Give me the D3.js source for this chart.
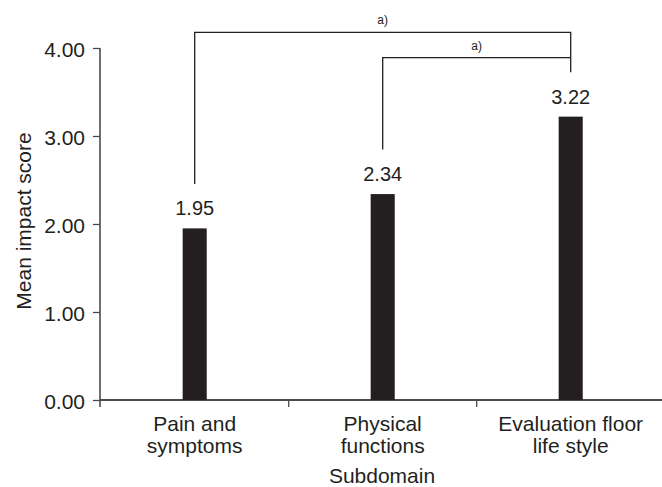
<!DOCTYPE html>
<html>
<head>
<meta charset="utf-8">
<script src="https://cdn.jsdelivr.net/npm/d3@7"></script>
<style>
  html, body { margin: 0; padding: 0; background: #fff; }
  svg { display: block; font-family: "Liberation Sans", Arial, sans-serif; }
</style>
</head>
<body>
<div id="chart"></div>
<script>
// chart data
const categories = ["Pain and symptoms", "Physical functions", "Evaluation floor life style"];
const labelLines = [["Pain and", "symptoms"], ["Physical", "functions"], ["Evaluation floor", "life style"]];
const values = [1.95, 2.34, 3.22];
const yTicks = [0, 1, 2, 3, 4];
// significance brackets: [from index, to index, label]
const brackets = [[0, 2, "a)"], [1, 2, "a)"]];

const width = 662, height = 487;
const ink = "#231f20";

const svg = d3.select("#chart").append("svg")
  .attr("width", width)
  .attr("height", height);

const x = d3.scaleBand()
  .domain(categories)
  .range([100.7, 664.7])
  .padding(0);

const y = d3.scaleLinear()
  .domain([0, 4])
  .range([400, 48]);

const barW = x.bandwidth() * 0.128;
const cx = c => x(c) + x.bandwidth() / 2;

// y axis
const yAxis = svg.append("g")
  .attr("transform", "translate(100,0)")
  .call(d3.axisLeft(y).tickValues(yTicks).tickFormat(d3.format(".2f")).tickSize(7).tickPadding(8).tickSizeOuter(0));
yAxis.select(".domain").attr("stroke", "#4a4a4a").attr("stroke-width", 1.6).attr("d", `M0,${y(4)}V${y(0) + 7}`);
yAxis.selectAll(".tick line").attr("stroke", "#4a4a4a").attr("stroke-width", 1.3);
yAxis.selectAll(".tick text")
  .attr("fill", ink)
  .attr("font-size", 21)
  .attr("font-family", "Liberation Sans, Arial, sans-serif")
  .attr("dy", "0.4em");

// x axis line
svg.append("line")
  .attr("x1", 100).attr("x2", width)
  .attr("y1", y(0)).attr("y2", y(0))
  .attr("stroke", "#4a4a4a").attr("stroke-width", 1.8);

// x ticks at band boundaries
svg.append("g").selectAll("line")
  .data(categories.slice(1))
  .join("line")
  .attr("x1", d => x(d)).attr("x2", d => x(d))
  .attr("y1", y(0)).attr("y2", y(0) + 7)
  .attr("stroke", "#4a4a4a").attr("stroke-width", 1.3);

// bars
svg.append("g").selectAll("rect")
  .data(categories)
  .join("rect")
  .attr("x", d => cx(d) - barW / 2)
  .attr("width", barW)
  .attr("y", (d, i) => y(values[i]))
  .attr("height", (d, i) => y(0) - y(values[i]))
  .attr("fill", ink);

// value labels
svg.append("g").selectAll("text")
  .data(categories)
  .join("text")
  .attr("x", d => cx(d))
  .attr("y", (d, i) => y(values[i]) - 13)
  .attr("text-anchor", "middle")
  .attr("font-size", 20)
  .attr("fill", ink)
  .text((d, i) => values[i].toFixed(2));

// category labels
const catG = svg.append("g").selectAll("text")
  .data(categories)
  .join("text")
  .attr("text-anchor", "middle")
  .attr("font-size", 21)
  .attr("fill", ink);
catG.selectAll("tspan")
  .data((d, i) => labelLines[i].map(t => ({ t, c: d })))
  .join("tspan")
  .attr("x", d => cx(d.c))
  .attr("y", (d, j) => 431 + j * 22)
  .text(d => d.t);

// axis titles
svg.append("text")
  .attr("x", 382).attr("y", 483)
  .attr("text-anchor", "middle")
  .attr("font-size", 21)
  .attr("fill", ink)
  .text("Subdomain");

svg.append("text")
  .attr("transform", "translate(31,221) rotate(-90)")
  .attr("text-anchor", "middle")
  .attr("font-size", 21)
  .attr("fill", ink)
  .text("Mean impact score");

// significance brackets
const levels = [32.3, 57.7];
brackets.forEach(([a, b, lab], k) => {
  const ca = categories[a], cb = categories[b];
  const top = levels[k];
  const path = d3.path();
  path.moveTo(cx(ca), y(values[a]) - 44.5);
  path.lineTo(cx(ca), top);
  path.lineTo(cx(cb), top);
  path.lineTo(cx(cb), k === 0 ? y(values[b]) - 44.5 : top);
  svg.append("path")
    .attr("d", path.toString())
    .attr("fill", "none")
    .attr("stroke", ink)
    .attr("stroke-width", 1.3);
  svg.append("text")
    .attr("x", (cx(ca) + cx(cb)) / 2)
    .attr("y", top - 8)
    .attr("text-anchor", "middle")
    .attr("font-size", 12)
    .attr("fill", ink)
    .text(lab);
});
</script>
</body>
</html>
